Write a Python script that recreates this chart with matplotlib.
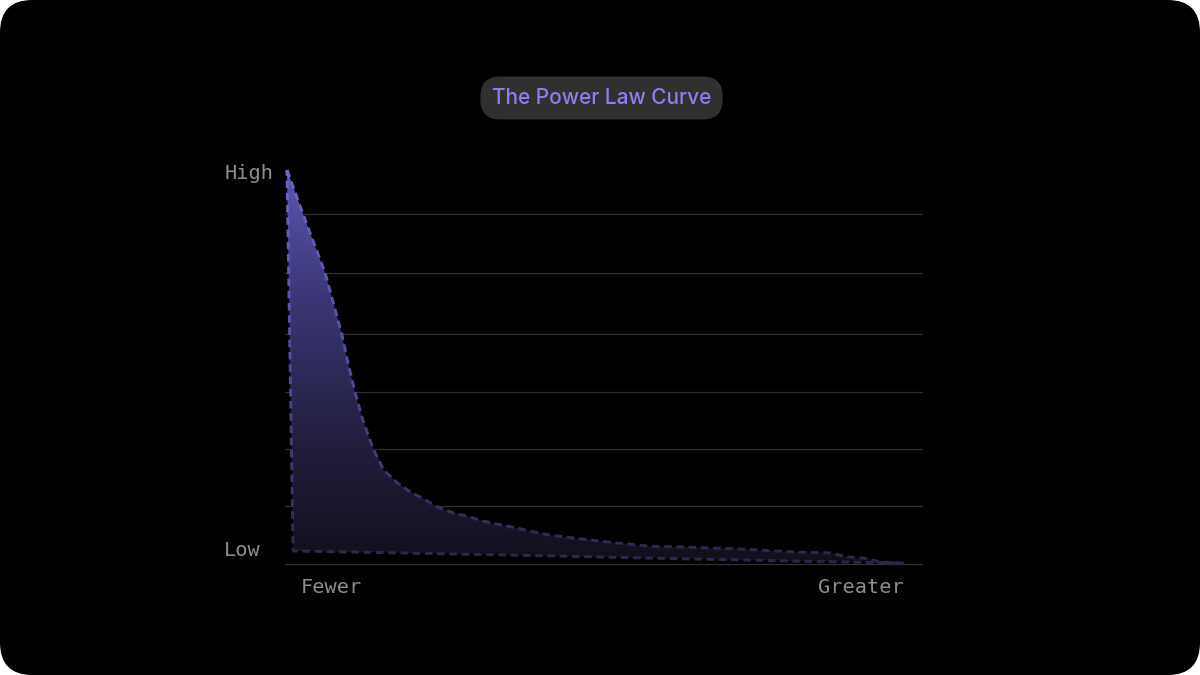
import numpy as np
import matplotlib
matplotlib.use("Agg")
import matplotlib.pyplot as plt
from matplotlib.patches import FancyBboxPatch, Polygon, Rectangle
from matplotlib.colors import LinearSegmentedColormap

# ---- data (x: 0 = Fewer, 100 = Greater ; y: 0 = Low, 100 = High) ----
top_x = [0, 2.6, 6.2, 8.9, 9.9, 11.0, 12.3, 14.0, 15.7, 17.9, 20.0, 21.6, 24.4,
         26.5, 29.7, 31.8, 37.3, 42.7, 48.1, 53.6, 58.9, 64.3, 73.5, 82.8, 88.1,
         90.9, 93.5, 96.3, 100]
top_y = [100, 88.8, 73.8, 58.3, 51.0, 43.8, 36.5, 29.1, 23.8, 20.5, 18.2, 16.9, 14.4,
         13.1, 11.8, 10.8, 9.0, 7.2, 6.2, 5.2, 4.4, 4.2, 3.7, 2.9, 2.7,
         1.7, 1.4, 0.4, 0.1]
bottom_x = [100, 67.0, 34.6, 1.0]
bottom_y = [0.1, 1.1, 2.2, 3.2]
grid_values = [0, 14.6, 29.1, 43.7, 58.2, 73.8, 88.8]
y_labels = ["High", "Low"]
x_labels = ["Fewer", "Greater"]
title = "The Power Law Curve"

W, H = 1200, 675
fig = plt.figure(figsize=(12, 6.75), dpi=100)
fig.patch.set_facecolor("white")
# rounded black card
card = FancyBboxPatch((0, 0), 1, 1, boxstyle="round,pad=0,rounding_size=0.027",
                      transform=fig.transFigure, facecolor="black", edgecolor="none",
                      mutation_aspect=W / H, zorder=-10)
fig.patches.append(card)

# axes placement in pixels
L, R, T, B = 285, 923, 150, 575
ax = fig.add_axes([L / W, 1 - B / H, (R - L) / W, (B - T) / H])
ax.set_zorder(5)
ax.set_facecolor("none")
for s in ax.spines.values():
    s.set_visible(False)
ax.set_xticks([])
ax.set_yticks([])

for g in grid_values:
    ax.axhline(g, color="#313131", lw=0.9, zorder=1)

# polygon of shape (top curve forward, bottom back)
px = list(top_x) + list(bottom_x)
py = list(top_y) + list(bottom_y)
poly = Polygon(np.column_stack([px, py]), closed=True, facecolor="none",
               edgecolor="none", transform=ax.transData)
ax.add_patch(poly)

# vertical gradient fill
stops = [(0.0, (17, 15, 26)), (0.03, (19, 17, 30)), (0.12, (24, 22, 42)),
         (0.30, (33, 30, 60)), (0.55, (50, 47, 100)), (0.68, (59, 55, 118)),
         (0.90, (82, 77, 158)), (1.0, (92, 86, 175))]
cmap = LinearSegmentedColormap.from_list(
    "g", [(p, tuple(c / 255 for c in col)) for p, col in stops])
ys = np.linspace(0, 100, 400)
grad = (ys / 100.0)[:, None] * np.ones((1, 2))
im = ax.imshow(grad, cmap=cmap, vmin=0, vmax=1, origin="lower", aspect="auto",
               extent=[-0.32, 103.25, 0, 100], zorder=2, interpolation="bilinear")
im.set_clip_path(poly)
ax.set_xlim(-0.32, 103.25)
ax.set_ylim(-2.92, 105.08)

# dashed outline with vertical colour fade (drawn in bands)
lx = px + [px[0]]
ly = py + [py[0]]
line_stops = [(0.0, (42, 39, 74)), (0.2, (58, 53, 106)), (0.5, (82, 76, 155)),
              (1.0, (108, 100, 200))]
lcmap = LinearSegmentedColormap.from_list(
    "l", [(p, tuple(c / 255 for c in col)) for p, col in line_stops])
edges = np.linspace(-3, 105, 28)
for lo, hi in zip(edges[:-1], edges[1:]):
    mid = np.clip((lo + hi) / 2 / 100, 0, 1)
    ln, = ax.plot(lx, ly, color=lcmap(mid), lw=2.1, ls=(0, (2.6, 1.6)),
                  solid_capstyle="butt", dash_capstyle="butt",
                  solid_joinstyle="round", zorder=3)
    rect = Rectangle((-5, lo), 120, hi - lo, transform=ax.transData)
    ln.set_clip_path(rect)

mono = "DejaVu Sans Mono"
lab_col = "#8c8c8c"
fs = 14.6
ax.text(-10.2, 99.2, y_labels[0], ha="left", va="center", fontsize=fs,
        family=mono, color=lab_col, clip_on=False)
ax.text(-10.2, 3.2, y_labels[1], ha="left", va="center", fontsize=fs,
        family=mono, color=lab_col, clip_on=False)
ax.text(2.3, -6.2, x_labels[0], ha="left", va="center", fontsize=fs,
        family=mono, color=lab_col, clip_on=False)
ax.text(100.2, -6.2, x_labels[1], ha="right", va="center", fontsize=fs,
        family=mono, color=lab_col, clip_on=False)

fig.text(601.5 / W, 1 - 98 / H, title, ha="center", va="center", fontsize=15,
         family="Inter", fontweight="medium", color="#8b80f0",
         bbox=dict(boxstyle="round,pad=0.55,rounding_size=0.95",
                   facecolor="#303030", edgecolor="none"))

fig.savefig("out.png", dpi=100, facecolor=fig.get_facecolor())
